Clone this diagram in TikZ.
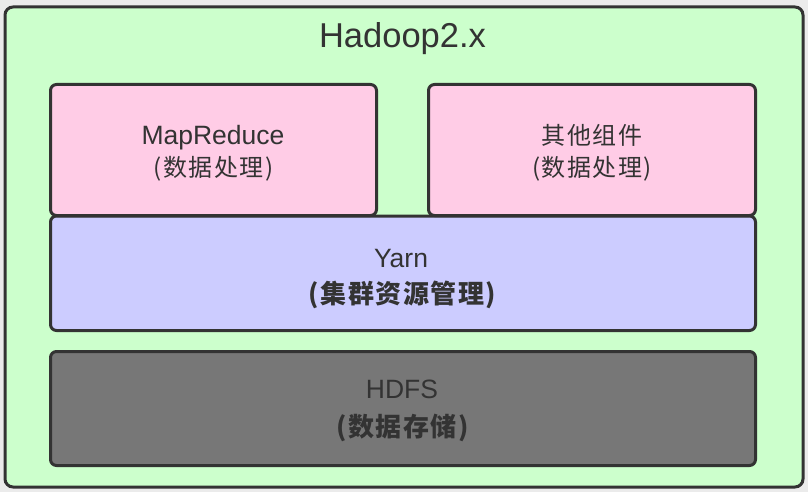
\documentclass[tikz,border=0pt]{standalone}
\usepackage{fontspec}
\setmainfont{Liberation Sans}
\newfontfamily\cjk[LetterSpace=6]{Noto Sans CJK SC}
\definecolor{bgout}{HTML}{EBEBEB}
\definecolor{green1}{HTML}{CCFFCC}
\definecolor{pink1}{HTML}{FFCCE6}
\definecolor{lav1}{HTML}{CCCCFF}
\definecolor{gray1}{HTML}{777777}
\definecolor{ink}{HTML}{333333}
\tikzset{
  box/.style={draw=ink, line width=3pt, rounded corners=6pt, inner sep=0pt, outer sep=0pt},
  lbl/.style={text=ink, inner sep=0pt, anchor=base},
}
\newcommand{\fsz}[1]{\fontsize{#1}{#1}\selectfont}
\begin{document}
\begin{tikzpicture}[x=1pt, y=-1pt]
\useasboundingbox (0,0) rectangle (808,492);
\fill[bgout] (0,0) rectangle (808,492);
% outer container
\node[box, rounded corners=8pt, fill=green1, minimum width=798pt, minimum height=480pt] (outer) at (404,247) {};
% Yarn layer
\node[box, fill=lav1, minimum width=705pt, minimum height=114.5pt] (yarn) at (403,273.25) {};
% top components
\node[box, fill=pink1, minimum width=326pt, minimum height=131pt] (mr) at (213.5,150) {};
\node[box, fill=pink1, minimum width=327pt, minimum height=131pt] (other) at (592,150) {};
% HDFS layer
\node[box, fill=gray1, minimum width=705pt, minimum height=114pt] (hdfs) at (403,408.5) {};
% labels
\node[lbl] (title) at (402.5,48) {\fsz{34.5}Hadoop2.x};
\node[lbl] (mrt) at (213,144) {\fsz{26.5}MapReduce};
\node[lbl] (mrc) at (213.5,176) {\cjk\fsz{24}(数据处理)};
\node[lbl] (ott) at (592,144.5) {\cjk\fsz{24}其他组件};
\node[lbl] (otc) at (592,176) {\cjk\fsz{24}(数据处理)};
\node[lbl] (yt) at (401,267) {\fsz{26.5}Yarn};
\node[lbl] (yc) at (402.5,303.4) {\cjk\bfseries\fsz{26}(集群资源管理)};
\node[lbl] (ht) at (402,398) {\fsz{26.5}HDFS};
\node[lbl] (hc) at (402.5,436) {\cjk\bfseries\fsz{26}(数据存储)};
\end{tikzpicture}
\end{document}
